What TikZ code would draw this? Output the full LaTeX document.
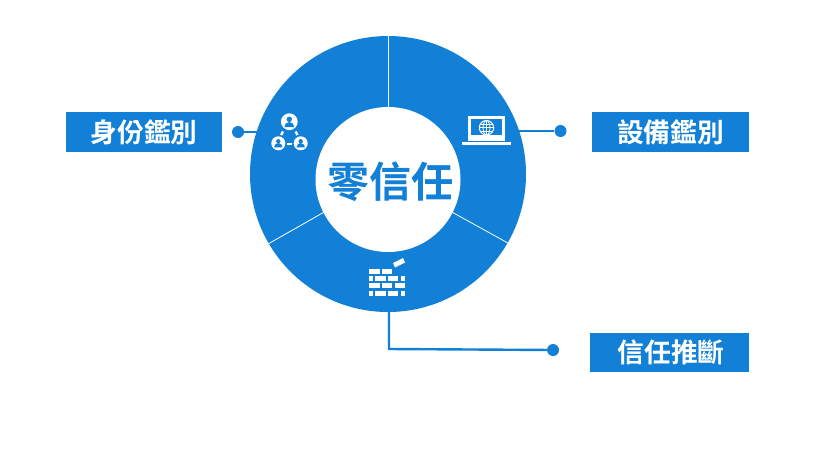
\documentclass[tikz,border=0pt]{standalone}
\usepackage{fontspec}
\newfontfamily\cjk{Noto Sans CJK TC}[BoldFont={* Bold}]
\definecolor{brand}{HTML}{1180D6}
\begin{document}
\begin{tikzpicture}[x=1pt,y=-1pt,
  labelbox/.style={fill=brand,text=white,inner sep=0pt,minimum height=40pt,font=\cjk\bfseries\fontsize{26.7}{27}\selectfont},
  dot/.style={circle,fill=brand,inner sep=0pt,minimum size=12pt},
  conn/.style={draw=brand,line width=2.4pt},
  sep/.style={draw=white,line width=0.8pt},
  brick/.style={fill=white,draw=none}]
\useasboundingbox (0,0) rectangle (826,463);
\fill[white] (0,0) rectangle (826,463);
% connectors
\node[dot] (dl) at (238,132) {};
\node[dot] (dr) at (560.5,131) {};
\node[dot] (db) at (553,350) {};
\coordinate (cl) at (262,132);
\coordinate (cr) at (515,131);
\coordinate (cb) at (389,305);
\coordinate (bend) at (389,349);
\draw[conn] (dl) -- (cl);
\draw[conn] (cr) -- (dr);
\draw[conn] (cb) -- (bend) -- (db);
% ring
\fill[brand] (388,174) circle[radius=138];
\draw[sep] (388,36) -- (388,110);
\draw[sep] (450,211) -- (511.5,245);
\draw[sep] (326,211) -- (268,244);
\fill[white] (388,179.5) circle[radius=72.5];
\node[text=brand,font=\cjk\bfseries\fontsize{42}{43}\selectfont,inner sep=0pt] (title) at (390,182) {零信任};
% labels
\node[labelbox,minimum width=156pt] (l1) at (144,132) {身份鑑別};
\node[labelbox,minimum width=157pt] (l2) at (670.5,132) {設備鑑別};
\node[labelbox,minimum width=159pt,minimum height=39pt] (l3) at (669.5,352.5) {\hspace*{3pt}信任推斷};
% people icon
\fill[white] (289.3,121.7) circle[radius=8.4];
\fill[white] (278.3,143.3) circle[radius=7];
\fill[white] (300.7,143.3) circle[radius=7];
\fill[brand] (289.3,119.3) circle[radius=2.7];
\fill[brand] (284.3,127) arc[start angle=180,end angle=360,radius=5] -- cycle;
\fill[brand] (278.3,141.3) circle[radius=2.2];
\fill[brand] (274.1,147.3) arc[start angle=180,end angle=360,radius=4.2] -- cycle;
\fill[brand] (300.7,141.3) circle[radius=2.2];
\fill[brand] (296.5,147.3) arc[start angle=180,end angle=360,radius=4.2] -- cycle;
\draw[draw=white,line width=2.4pt] (283,131.5) -- (281.2,135);
\draw[draw=white,line width=2.4pt] (295.5,131.5) -- (297.5,135);
\draw[draw=white,line width=2.4pt] (287,144) -- (292,144);
% laptop icon
\fill[white] (468,116) rectangle (504.5,141);
\fill[brand] (471,118.5) rectangle (502,135);
\fill[white] (462,142) rectangle (511,145);
\draw[draw=white,line width=1pt] (486.5,127.7) circle[radius=7.2];
\draw[draw=white,line width=0.8pt] (486.5,127.7) ellipse[x radius=3.5,y radius=7.2];
\draw[draw=white,line width=0.8pt] (479.3,127.7) -- (493.7,127.7) (480.5,124) -- (492.5,124) (480.5,131.5) -- (492.5,131.5) (486.5,120.5) -- (486.5,135);
% brick wall icon
\foreach \a/\b/\y in {369/379.5/269,382/392/269,
 369/373/276,375/386/276,388/398/276,401/404.5/276,
 369/379.5/283,382/392/283,394.5/405/283,
 369/373/290.5,375/386/290.5,388/398/290.5,401/404.5/290.5}
  \fill[brick] (\a,\y) rectangle (\b,\y+5);
\fill[brick] (393,263) -- (403,258) -- (405,262.5) -- (395,267.5) -- cycle;
\end{tikzpicture}
\end{document}
